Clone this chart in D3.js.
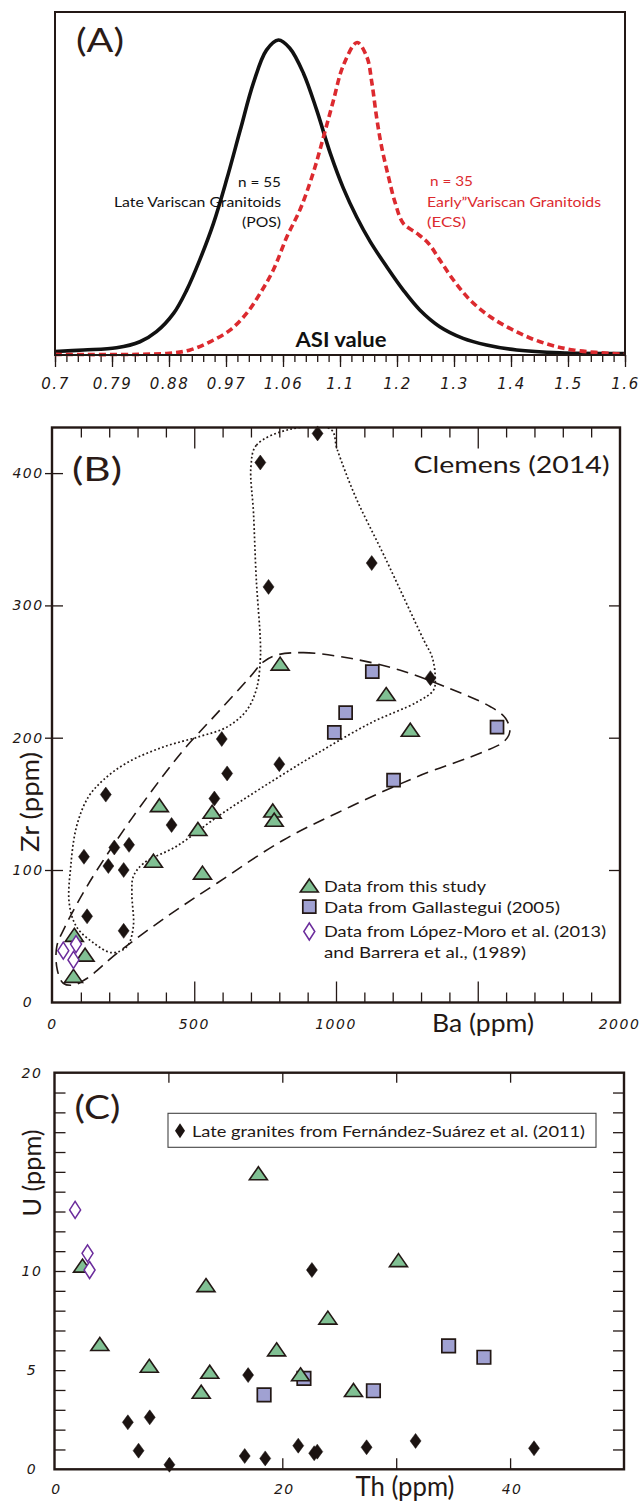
<!DOCTYPE html>
<html><head><meta charset="utf-8">
<script src="https://cdn.jsdelivr.net/npm/d3@7"></script>
<style>body{margin:0;background:#fff}svg{display:block}</style>
</head><body>
<svg id="c" width="644" height="1503"></svg>
<script>
// ---------------- DATA ----------------
// Panel A: ASI axis labels (equally spaced positions 0..10)
const asiLabels = ["0.7","0.79","0.88","0.97","1.06","1.1","1.2","1.3","1.4","1.5","1.6"];
// density curves: [axis position, relative frequency]
const posCurve = [[0,0.011],[0.5,0.016],[1.08,0.023],[1.49,0.042],[1.78,0.074],[2.08,0.132],[2.31,0.206],[2.54,0.302],[2.78,0.418],[3.01,0.556],[3.25,0.714],[3.48,0.863],[3.71,0.968],[3.92,1.0],[4.12,0.974],[4.36,0.894],[4.59,0.778],[4.83,0.64],[5.06,0.529],[5.29,0.439],[5.53,0.36],[5.82,0.28],[6.11,0.206],[6.4,0.143],[6.75,0.09],[7.16,0.053],[7.57,0.032],[8.1,0.016],[8.86,0.007],[10,0.005]];
const ecsCurve = [[0,0.002],[1.96,0.005],[2.37,0.016],[2.72,0.042],[3.07,0.079],[3.36,0.132],[3.6,0.196],[3.83,0.27],[4.07,0.376],[4.3,0.462],[4.53,0.578],[4.71,0.692],[4.88,0.805],[5.06,0.92],[5.3,0.992],[5.47,0.947],[5.56,0.863],[5.64,0.757],[5.73,0.661],[5.85,0.566],[5.97,0.482],[6.11,0.418],[6.35,0.386],[6.55,0.355],[6.75,0.302],[6.99,0.238],[7.28,0.175],[7.63,0.122],[8.04,0.079],[8.51,0.042],[9.09,0.016],[10,0.002]];

// Panel B: [Ba ppm, Zr ppm]
const bDiamonds = [[935,430],[733,408],[762,314],[1126,332],[1333,245],[597,199],[800,180],[616,173],[188,157],[571,154],[420,134],[270,119],[218,117],[111,110],[197,103],[251,100],[122,65],[251,54]];
const bTriangles = [[803,256],[1177,233],[1262,206],[377,149],[563,144],[513,131],[777,145],[782,138],[356,107],[529,98],[77,51],[115,36],[74,20]];
const bSquares = [[1128,250],[1034,219],[994,204],[1568,208],[1203,168]];
const bOpenDiamonds = [[38,39],[83,44],[74,32]];
const bDottedField = [[836,433],[719,421],[700,405],[709,370],[719,319],[733,274],[733,259],[721,238],[686,221],[615,208],[521,201],[391,193],[262,181],[179,168],[126,155],[85,133],[64,102],[59,75],[85,57],[144,45],[209,37.5],[262,42],[285,57],[280,82],[285,95],[321,105],[438,118],[580,140],[744,163],[933,188],[1121,211],[1286,227],[1344,236],[1350,246],[1339,261],[1309,274],[1171,337],[1069,382],[1004,418],[982,433]];
const bDashedField = [[791,262.5],[885,264.3],[1050,260],[1227,251],[1403,237],[1545,223.4],[1598,214.7],[1613,204.5],[1592,197],[1521,189.4],[1286,170.5],[1050,147.8],[815,122.7],[580,90],[403,64.7],[227,37],[121,18],[73,13],[38,14.4],[17,24.4],[15,42],[44,57],[121,87.4],[227,122.7],[344,158],[462,190.7],[580,218.4],[697,246],[744,257.4]];
const bXLabels = [0,500,1000,2000];
const bYLabels = [0,100,200,300,400];
const bLegend = ["Data from this study","Data from Gallastegui (2005)","Data from López-Moro et al. (2013)","and Barrera et al., (1989)"];

// Panel C: [Th ppm, U ppm]
const cTriangles = [[17.9,14.93],[2.46,10.27],[30.2,10.55],[13.3,9.29],[24.0,7.65],[3.98,6.32],[19.5,6.05],[8.32,5.22],[13.63,4.92],[21.6,4.79],[12.88,3.91],[26.25,4.0]];
const cSquares = [[34.6,6.22],[37.7,5.65],[21.9,4.59],[28.0,3.96],[18.4,3.75]];
const cOpenDiamonds = [[1.81,13.08],[2.9,10.89],[3.08,10.05]];
const cDiamonds = [[22.6,10.05],[17.0,4.75],[6.44,2.37],[8.36,2.62],[7.38,0.94],[10.09,0.23],[16.7,0.67],[18.5,0.55],[21.4,1.19],[22.8,0.81],[23.07,0.89],[27.4,1.11],[31.7,1.43],[42.1,1.06]];
const cXLabels = [0,20,40];
const cYLabels = [0,5,10,20];
const cLegend = "Late granites from  Fernández-Suárez et al. (2011)";

// ---------------- DRAWING ----------------
const ink = "#231815", red = "#dc2a2f", green = "#80c093", lav = "#a0a1d2", purple = "#6b2c9c";
const txtFont = "Lato, 'Open Sans', sans-serif";
const numFont = "'DejaVu Sans', sans-serif";
const svg = d3.select("#c");

const tri = (w,h) => `M0,${-h/2}L${w/2},${h/2}L${-w/2},${h/2}Z`;
const dia = (w,h) => `M0,${-h/2}L${w/2},0L0,${h/2}L${-w/2},0Z`;
const sq = s => `M${-s/2},${-s/2}h${s}v${s}h${-s}Z`;

function points(g, data, x, y, shape, fill, stroke, sw){
  g.append("g").selectAll("path").data(data).join("path")
    .attr("d", shape).attr("transform", d => `translate(${x(d[0])},${y(d[1])})`)
    .attr("fill", fill).attr("stroke", stroke).attr("stroke-width", sw).attr("stroke-linejoin","miter");
}
function styleTicks(g){ g.select(".domain").remove(); g.selectAll("line").attr("stroke", ink).attr("stroke-width", 1.3); }
function label(x, y, t, o){
  const e = svg.append("text").attr("x", x).attr("y", y).text(t)
    .attr("font-family", o.font || txtFont).attr("font-size", o.size || 14)
    .attr("fill", o.fill || ink).attr("text-anchor", o.anchor || "start");
  if (o.weight) e.attr("font-weight", o.weight);
  if (o.italic) e.attr("font-style", "italic");
  if (o.len) e.attr("textLength", o.len).attr("lengthAdjust", "spacingAndGlyphs");
  if (o.rot) e.attr("transform", `rotate(-90,${x},${y})`);
  if (o.ls) e.attr("letter-spacing", o.ls);
  return e;
}

// ===== Panel A =====
const ax = d3.scaleLinear().domain([0,10]).range([55,625]);
const ay = d3.scaleLinear().domain([0,1]).range([355,40]);
const gA = svg.append("g");
gA.append("g").attr("transform","translate(0,355)")
  .call(d3.axisBottom(ax).tickValues(d3.range(0,10.001,0.2)).tickSize(7).tickFormat(""))
  .call(styleTicks);
gA.append("g").attr("transform","translate(0,355)")
  .call(d3.axisBottom(ax).tickValues(d3.range(0,11)).tickSize(12).tickPadding(11).tickFormat(i => asiLabels[i]))
  .call(styleTicks)
  .call(g => g.selectAll("text").attr("font-family", numFont).attr("font-style","italic")
      .attr("font-size", 15).attr("fill", ink).attr("letter-spacing", 1.5));
const lineA = d3.line().x(d => ax(d[0])).y(d => ay(d[1])).curve(d3.curveCatmullRom.alpha(0.5));
gA.append("path").attr("d", lineA(posCurve)).attr("fill","none").attr("stroke","#111").attr("stroke-width",3.6);
gA.append("path").attr("d", lineA(ecsCurve)).attr("fill","none").attr("stroke",red).attr("stroke-width",3.6).attr("stroke-dasharray","7,4");
gA.append("rect").attr("x",55).attr("y",12).attr("width",570).attr("height",343).attr("fill","none").attr("stroke",ink).attr("stroke-width",2);

label(76, 51.5, "(A)", {size:33, len:48, fill:"#2b1b17"});
label(281, 187, "n = 55", {size:14, anchor:"end", len:43, fill:"#111"});
label(281, 207, "Late Variscan Granitoids", {size:14, anchor:"end", len:167, fill:"#111"});
label(281, 227, "(POS)", {size:14, anchor:"end", len:39, fill:"#111"});
label(430, 186, "n = 35", {size:14, len:43, fill:red});
label(427, 207, "Early\u201DVariscan Granitoids", {size:14, len:174, fill:red});
label(427, 227, "(ECS)", {size:14, len:39, fill:red});
label(341, 347, "ASI value", {size:21, anchor:"middle", weight:"bold", len:91, fill:"#111"});

// ===== Panel B =====
const bx = d3.scaleLinear().domain([0,2000]).range([52.5,619.5]);
const by = d3.scaleLinear().domain([0,435]).range([1002.3,426.8]);
const gB = svg.append("g");
svg.append("defs").append("clipPath").attr("id","clipB").append("rect").attr("x",52).attr("y",427.5).attr("width",568).attr("height",575);
const minorB = d3.range(100,2000,100).filter(v => v % 500 !== 0);
const majorB = [500,1000,1500];
gB.append("g").attr("transform","translate(0,1002.5)").call(d3.axisBottom(bx).tickValues(minorB).tickSize(-10).tickFormat("")).call(styleTicks);
gB.append("g").attr("transform","translate(0,1002.5)").call(d3.axisBottom(bx).tickValues(majorB).tickSize(-21).tickFormat("")).call(styleTicks);
gB.append("g").attr("transform","translate(0,427.5)").call(d3.axisTop(bx).tickValues(minorB).tickSize(-10).tickFormat("")).call(styleTicks);
gB.append("g").attr("transform","translate(0,427.5)").call(d3.axisTop(bx).tickValues(majorB).tickSize(-21).tickFormat("")).call(styleTicks);
gB.append("g").attr("transform","translate(52,0)").call(d3.axisLeft(by).tickValues([100,200,300,400]).tickSizeInner(7).tickFormat("")).call(styleTicks);
gB.append("g").attr("transform","translate(52,0)").call(d3.axisLeft(by).tickValues([100,200,300,400]).tickSizeInner(-11).tickFormat("")).call(styleTicks);
gB.append("g").attr("transform","translate(620,0)").call(d3.axisRight(by).tickValues([100,200,300]).tickSizeInner(-11).tickFormat("")).call(styleTicks);

const fieldLine = d3.line().x(d => bx(d[0])).y(d => by(d[1])).curve(d3.curveCatmullRomClosed.alpha(0.5));
const gF = gB.append("g").attr("clip-path","url(#clipB)");
gF.append("path").attr("d", fieldLine(bDottedField)).attr("fill","none").attr("stroke",ink).attr("stroke-width",1.7).attr("stroke-dasharray","1.8,2.4");
gF.append("path").attr("d", fieldLine(bDashedField)).attr("fill","none").attr("stroke",ink).attr("stroke-width",1.6).attr("stroke-dasharray","12,7");

points(gB, bSquares, bx, by, sq(13), lav, ink, 1.7);
points(gB, bTriangles, bx, by, tri(18,13), green, ink, 1.6);
points(gB, bDiamonds, bx, by, dia(11,15), "#1b1311", "#1b1311", 0.5);
points(gB, bOpenDiamonds, bx, by, dia(11,17), "#fff", purple, 1.5);
gB.append("rect").attr("x",52).attr("y",427.5).attr("width",568).attr("height",575).attr("fill","none").attr("stroke",ink).attr("stroke-width",2.4);

bYLabels.forEach(v => label(28, by(v) + 5, String(v), {font:numFont, size:14, italic:true, anchor:"middle", ls:1.5}));
bXLabels.forEach(v => label(bx(v), 1029, String(v), {font:numFont, size:14, italic:true, anchor:"middle", ls:1.5}));
label(72, 480.5, "(B)", {size:33, len:50, fill:"#2b1b17"});
label(609.5, 473, "Clemens (2014)", {size:24, anchor:"end", len:196});
label(483, 1031.5, "Ba (ppm)", {size:25, anchor:"middle", len:102});
label(39, 802, "Zr (ppm)", {size:25, anchor:"middle", len:100, rot:true});

// legend B
const legY = [891.5, 913, 936.5, 958];
gB.append("path").attr("d", tri(18,13)).attr("transform","translate(309.3,885.5)").attr("fill",green).attr("stroke",ink).attr("stroke-width",1.6);
gB.append("path").attr("d", sq(13)).attr("transform","translate(309.3,906.7)").attr("fill",lav).attr("stroke",ink).attr("stroke-width",1.7);
gB.append("path").attr("d", dia(11,17)).attr("transform","translate(309.3,931.5)").attr("fill","#fff").attr("stroke",purple).attr("stroke-width",1.5);
const legLen = [162, 236, 282, 202];
bLegend.forEach((t,i) => label(324, legY[i], t, {size:16, len:legLen[i]}));

// ===== Panel C =====
const cx = d3.scaleLinear().domain([0,50]).range([54.5,624]);
const cy = d3.scaleLinear().domain([0,20]).range([1469.3,1072.7]);
const gC = svg.append("g");
gC.append("g").attr("transform","translate(54.5,0)").call(d3.axisLeft(cy).tickValues(d3.range(1,20)).tickSizeInner(-11).tickFormat("")).call(styleTicks);
gC.append("g").attr("transform","translate(624,0)").call(d3.axisRight(cy).tickValues(d3.range(1,20)).tickSizeInner(-11).tickFormat("")).call(styleTicks);
gC.append("g").attr("transform","translate(0,1072.7)").call(d3.axisTop(cx).tickValues([10,20,30,40]).tickSizeInner(-10).tickFormat("")).call(styleTicks);
gC.append("g").attr("transform","translate(0,1469.3)").call(d3.axisBottom(cx).tickValues([10,20,30,40]).tickSizeInner(-11).tickFormat("")).call(styleTicks);

points(gC, cSquares, cx, cy, sq(13.5), lav, ink, 1.7);
points(gC, cTriangles, cx, cy, tri(18,13), green, ink, 1.6);
points(gC, cDiamonds, cx, cy, dia(11,15), "#1b1311", "#1b1311", 0.5);
points(gC, cOpenDiamonds, cx, cy, dia(11,17), "#fff", purple, 1.5);
gC.append("rect").attr("x",54.5).attr("y",1072.7).attr("width",569.5).attr("height",396.6).attr("fill","none").attr("stroke",ink).attr("stroke-width",2.4);

cYLabels.forEach(v => label(32, cy(v) + 5, String(v), {font:numFont, size:14, italic:true, anchor:"middle", ls:1.5}));
cXLabels.forEach(v => label(cx(v) + 2, 1494, String(v), {font:numFont, size:14, italic:true, anchor:"middle", ls:1.5}));
label(74.5, 1119, "(C)", {size:33, len:46, fill:"#2b1b17"});
label(405, 1496, "Th (ppm)", {size:26, anchor:"middle", len:99});
label(41, 1173, "U (ppm)", {size:25, anchor:"middle", len:87, rot:true});

gC.append("rect").attr("x",168).attr("y",1113.3).attr("width",428).attr("height",34).attr("fill","#fff").attr("stroke","#444").attr("stroke-width",1.1);
gC.append("path").attr("d", dia(10,15)).attr("transform","translate(180,1130.7)").attr("fill","#1b1311");
label(192, 1136.5, cLegend, {size:16, len:393});
</script>
</body></html>
